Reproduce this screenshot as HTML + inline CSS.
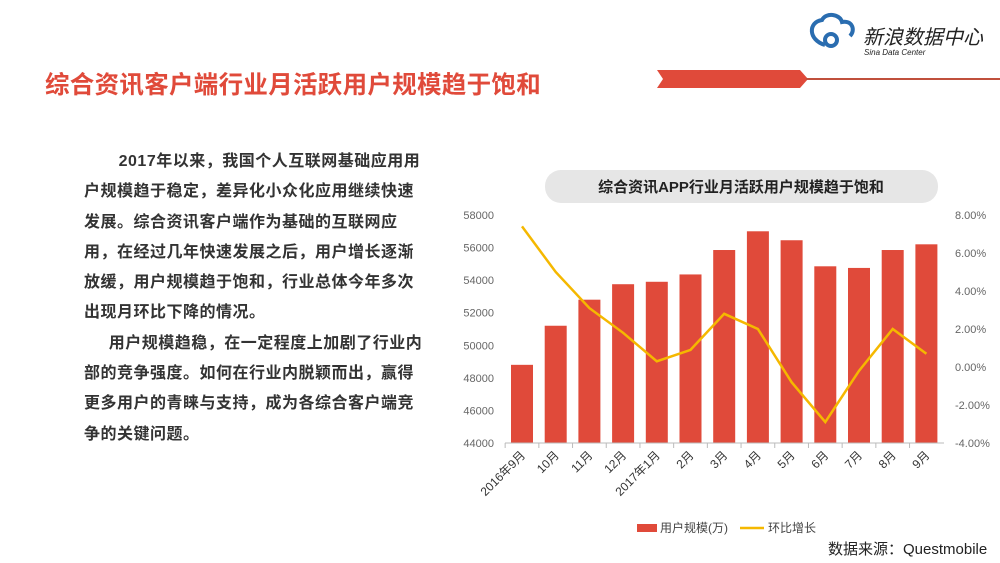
<!DOCTYPE html>
<html><head><meta charset="utf-8"><style>
body{margin:0;width:1000px;height:563px;background:#fff;position:relative;overflow:hidden;font-family:"Liberation Sans","Noto Sans CJK SC",sans-serif}
.t{position:absolute;left:45px;top:66px;font-size:24.5px;font-weight:bold;color:#e04a3a;letter-spacing:0.3px;white-space:nowrap}
.p{position:absolute;left:84px;top:147px;font-size:16px;line-height:30.3px;color:#333;font-weight:bold;white-space:nowrap;letter-spacing:0.5px}
.src{position:absolute;left:828px;top:538px;font-size:15px;color:#222}
</style></head><body>
<svg width="1000" height="563" style="position:absolute;left:0;top:0">
<polygon points="657,70 800,70 808,79 800,88 657,88 663,79" fill="#e04a3a"/>
<line x1="806" y1="79" x2="1000" y2="79" stroke="#c0503c" stroke-width="2"/>
<g fill="none" stroke="#2a6db0" stroke-width="4"><path d="M825,45 C808,40 808,22 822,20 C826,12 840,14 842,22 C852,20 856,30 850,36"/><circle cx="831" cy="40" r="6"/></g>
<text x="863" y="44" font-size="20" fill="#222" font-family="Liberation Sans,Noto Sans CJK SC,sans-serif" font-style="italic">新浪数据中心</text>
<text x="864" y="55" font-size="8" fill="#222" font-style="italic" font-family="Liberation Sans,sans-serif">Sina Data Center</text>
<rect x="545" y="170" width="393" height="33" rx="16" fill="#e6e6e6"/>
<text x="741" y="192" font-size="15" font-weight="bold" text-anchor="middle" fill="#222" font-family="Liberation Sans,Noto Sans CJK SC,sans-serif">综合资讯APP行业月活跃用户规模趋于饱和</text>
<g font-size="11" fill="#666" font-family="Liberation Sans,sans-serif" id="ax"></g>
</svg>
<div class="t">综合资讯客户端行业月活跃用户规模趋于饱和</div>
<div class="p">&nbsp;&nbsp;&nbsp;&nbsp;&nbsp;&nbsp;&nbsp;2017年以来，我国个人互联网基础应用用<br>户规模趋于稳定，差异化小众化应用继续快速<br>发展。综合资讯客户端作为基础的互联网应<br>用，在经过几年快速发展之后，用户增长逐渐<br>放缓，用户规模趋于饱和，行业总体今年多次<br>出现月环比下降的情况。<br>&nbsp;&nbsp;&nbsp;&nbsp;&nbsp;用户规模趋稳，在一定程度上加剧了行业内<br>部的竞争强度。如何在行业内脱颖而出，赢得<br>更多用户的青睐与支持，成为各综合客户端竞<br>争的关键问题。</div>
<div class="src">数据来源：Questmobile</div>
<script>
var g=document.getElementById('ax'),s='';
var v=[48800,51200,52800,53750,53900,54350,55850,57000,56450,54850,54750,55850,56200];
var p=[7.4,5.0,3.1,1.8,0.3,0.9,2.8,2.0,-0.8,-2.9,-0.2,2.0,0.7];
var lb=['2016年9月','10月','11月','12月','2017年1月','2月','3月','4月','5月','6月','7月','8月','9月'];
function Y(x){return 443-(x-44000)*228/14000}
function P(x){return 443-(x+4)*19}
for(var i=0;i<8;i++){var k=44000+i*2000;s+='<text x="494" y="'+(Y(k)+4)+'" text-anchor="end">'+k+'</text>';}
for(var i=0;i<7;i++){var q=-4+i*2;s+='<text x="955" y="'+(P(q)+4)+'">'+q.toFixed(2)+'%</text>';}
var pts=[];
for(var i=0;i<13;i++){var c=522+i*33.7;s+='<rect x="'+(c-11)+'" y="'+Y(v[i])+'" width="22" height="'+(443-Y(v[i]))+'" fill="#e04a3a"/>';
pts.push(c+','+P(p[i]));
s+='<line x1="'+(c-16.85)+'" y1="443" x2="'+(c-16.85)+'" y2="448" stroke="#bbb"/>';
s+='<text transform="translate('+(c+4)+',456) rotate(-45)" text-anchor="end" font-size="12" fill="#333" font-family="Liberation Sans,Noto Sans CJK SC,sans-serif">'+lb[i]+'</text>';}
s+='<line x1="505" y1="443" x2="944" y2="443" stroke="#bbb"/>';
s+='<polyline points="'+pts.join(' ')+'" fill="none" stroke="#f5b800" stroke-width="2.5"/>';
s+='<rect x="637" y="524" width="20" height="8" fill="#e04a3a"/><text x="660" y="532" font-size="12" fill="#444" font-family="Liberation Sans,Noto Sans CJK SC,sans-serif">用户规模(万)</text>';
s+='<line x1="740" y1="528" x2="764" y2="528" stroke="#f5b800" stroke-width="2.5"/><text x="768" y="532" font-size="12" fill="#444" font-family="Liberation Sans,Noto Sans CJK SC,sans-serif">环比增长</text>';
g.innerHTML=s;
</script>
</body></html>
